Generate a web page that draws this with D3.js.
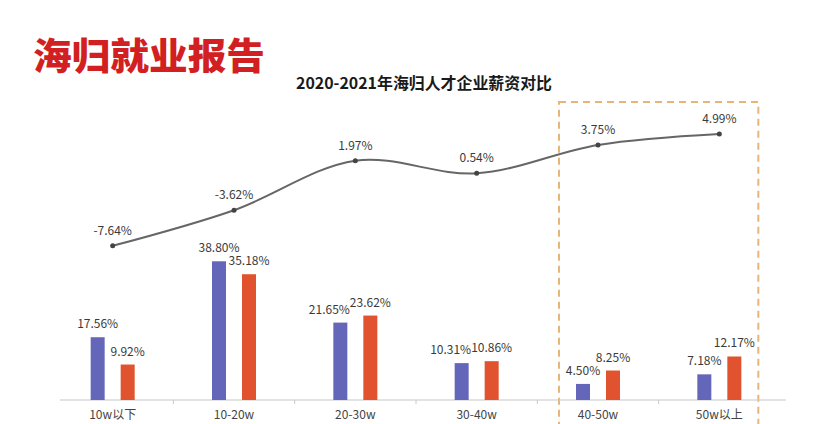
<!DOCTYPE html>
<html>
<head>
<meta charset="utf-8">
<script src="https://cdn.jsdelivr.net/npm/d3@7"></script>
<style>
  body { margin: 0; background: #fff; }
  text { font-family: "Noto Sans CJK SC", "Noto Sans", sans-serif; }
</style>
</head>
<body>
<div id="chart"></div>
<script>
// data
var categories = ["10w以下", "10-20w", "20-30w", "30-40w", "40-50w", "50w以上"];
var share2020 = [17.56, 38.80, 21.65, 10.31, 4.50, 7.18];
var share2021 = [9.92, 35.18, 23.62, 10.86, 8.25, 12.17];
var growth = [-7.64, -3.62, 1.97, 0.54, 3.75, 4.99];
var highlight = ["40-50w", "50w以上"];

var width = 830, height = 424;
var blue = "#6467B9", red = "#E0532E";

var svg = d3.select("#chart").append("svg")
	.attr("width", width)
	.attr("height", height);

//Headline and subtitle
svg.append("text")
	.attr("x", 33).attr("y", 70)
	.attr("textLength", 232).attr("lengthAdjust", "spacingAndGlyphs")
	.style("font-size", "37px").style("font-weight", 900)
	.style("fill", "#D21F22")
	.text("海归就业报告");

svg.append("text")
	.attr("x", 296).attr("y", 89)
	.attr("textLength", 256).attr("lengthAdjust", "spacingAndGlyphs")
	.style("font-size", "16px").style("font-weight", 700)
	.style("fill", "#1a1a1a")
	.text("2020-2021年海归人才企业薪资对比");

//Scales
var x = d3.scaleBand().domain(categories).range([52, 780]).padding(0);
var baseY = 400;
var yBar = d3.scaleLinear().domain([0, 40]).range([baseY, baseY - 143]);
var yLine = d3.scaleLinear().domain([-8, 6]).range([249, 125]);
var barW = 14, gap = 16;

//Dashed highlight box
var hx0 = x(highlight[0]) + x.bandwidth() / 2 - 39;
var hx1 = x(highlight[1]) + x.bandwidth() / 2 + 39;
svg.append("rect")
	.attr("x", hx0).attr("y", 102)
	.attr("width", hx1 - hx0).attr("height", 360)
	.style("fill", "none")
	.style("stroke", "#E6B57A").style("stroke-width", 2)
	.style("stroke-dasharray", "7,5");

//Baseline axis
var axis = svg.append("g").attr("transform", "translate(0," + baseY + ")");
axis.append("line")
	.attr("x1", 60).attr("x2", 786)
	.style("stroke", "#c8c8c8").style("stroke-width", 1.2);
axis.selectAll(".tick")
	.data(categories.slice(1))
	.enter().append("line")
	.attr("x1", function(d) { return x(d); })
	.attr("x2", function(d) { return x(d); })
	.attr("y1", 0).attr("y2", 4)
	.style("stroke", "#c8c8c8");
axis.selectAll(".cat")
	.data(categories)
	.enter().append("text")
	.attr("x", function(d) { return x(d) + x.bandwidth() / 2; })
	.attr("y", 19)
	.attr("text-anchor", "middle")
	.style("font-size", "12px").style("fill", "#444")
	.text(function(d) { return d; });

//Bars
var cx = function(i) { return x(categories[i]) + x.bandwidth() / 2; };
var bars = [];
categories.forEach(function(c, i) {
	bars.push({ i: i, v: share2020[i], x: cx(i) - gap / 2 - barW, color: blue });
	bars.push({ i: i, v: share2021[i], x: cx(i) + gap / 2, color: red });
});

svg.selectAll(".bar")
	.data(bars)
	.enter().append("rect")
	.attr("x", function(d) { return d.x; })
	.attr("y", function(d) { return yBar(d.v); })
	.attr("width", barW)
	.attr("height", function(d) { return baseY - yBar(d.v); })
	.style("fill", function(d) { return d.color; });

//Bar labels, shift the left one away when both labels collide
var labelW = 39;
var labs = svg.selectAll(".bar-label")
	.data(bars)
	.enter().append("text")
	.attr("text-anchor", "middle")
	.style("font-size", "12px").style("fill", "#3a3a3a")
	.text(function(d) { return d.v.toFixed(2) + "%"; });

labs.attr("x", function(d, k) {
		var mid = d.x + barW / 2;
		if (d.color === blue) {
			var r = bars[k + 1];
			var yl = yBar(d.v) - 9, yr = yBar(r.v) - 9;
			var rMid = r.x + barW / 2;
			if (Math.abs(yl - yr) < 12 && mid + labelW / 2 > rMid - labelW / 2) {
				mid = rMid - labelW - 2;
			}
		}
		return mid;
	})
	.attr("y", function(d) { return yBar(d.v) - 9; });

//Growth line
var line = d3.line()
	.x(function(d, i) { return cx(i); })
	.y(function(d) { return yLine(d); })
	.curve(d3.curveCatmullRom.alpha(0.5));

svg.append("path")
	.datum(growth)
	.attr("d", line)
	.style("fill", "none")
	.style("stroke", "#666").style("stroke-width", 2);

svg.selectAll(".dot")
	.data(growth)
	.enter().append("circle")
	.attr("cx", function(d, i) { return cx(i); })
	.attr("cy", function(d) { return yLine(d); })
	.attr("r", 2.5)
	.style("fill", "#444");

svg.selectAll(".line-label")
	.data(growth)
	.enter().append("text")
	.attr("x", function(d, i) { return cx(i); })
	.attr("y", function(d) { return yLine(d) - 11; })
	.attr("text-anchor", "middle")
	.style("font-size", "12px").style("fill", "#3a3a3a")
	.text(function(d) { return d.toFixed(2) + "%"; });
</script>
</body>
</html>
